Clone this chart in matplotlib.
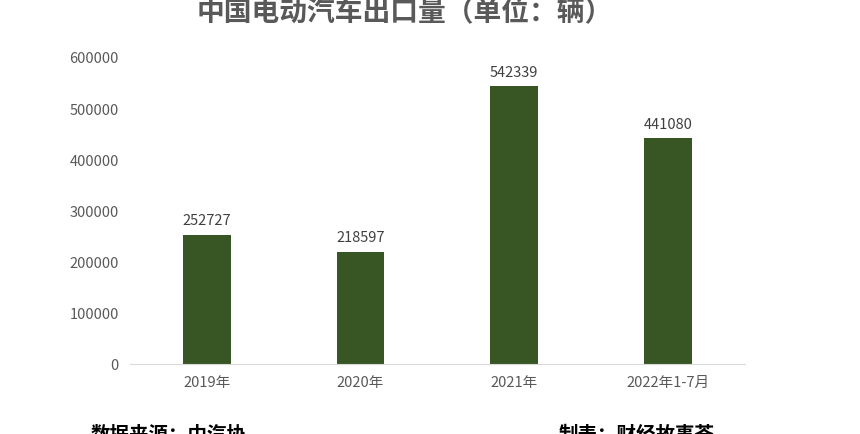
import matplotlib
matplotlib.use("Agg")
import matplotlib.pyplot as plt

plt.rcParams['font.family'] = ['Noto Sans CJK SC', 'DejaVu Sans']

categories = ["2019年", "2020年", "2021年", "2022年1-7月"]
values = [252727, 218597, 542339, 441080]
yticks = [0, 100000, 200000, 300000, 400000, 500000, 600000]

fig = plt.figure(figsize=(8.6, 4.35), dpi=100)
ax = fig.add_axes([0.151, 0.161, 0.715, 0.706])
x = range(len(categories))
ax.bar(x, values, width=0.31, color="#375623")
for i, v in zip(x, values):
    ax.text(i, v + 15000, str(v), ha="center", va="bottom", fontsize=10.5, color="#404040")
ax.set_xlim(-0.5, len(categories) - 0.5)
ax.set_ylim(0, 600000)
ax.set_yticks(yticks)
ax.set_yticklabels([str(t) for t in yticks])
ax.set_xticks(list(x))
ax.set_xticklabels(categories)
ax.tick_params(length=0, labelsize=10.5, colors="#595959", pad=8)
for s in ["top", "right", "left"]:
    ax.spines[s].set_visible(False)
ax.spines["bottom"].set_color("#d9d9d9")

fig.text(0.471, 0.972, "中国电动汽车出口量（单位：辆）", ha="center", va="center",
         fontsize=20, fontweight="bold", color="#595959")
fig.text(0.105, 0.0, "数据来源：中汽协", ha="left", va="center", fontsize=14, fontweight="bold")
fig.text(0.65, 0.0, "制表：财经故事荟", ha="left", va="center", fontsize=14, fontweight="bold")

fig.savefig("out.png", dpi=100, facecolor="white")
